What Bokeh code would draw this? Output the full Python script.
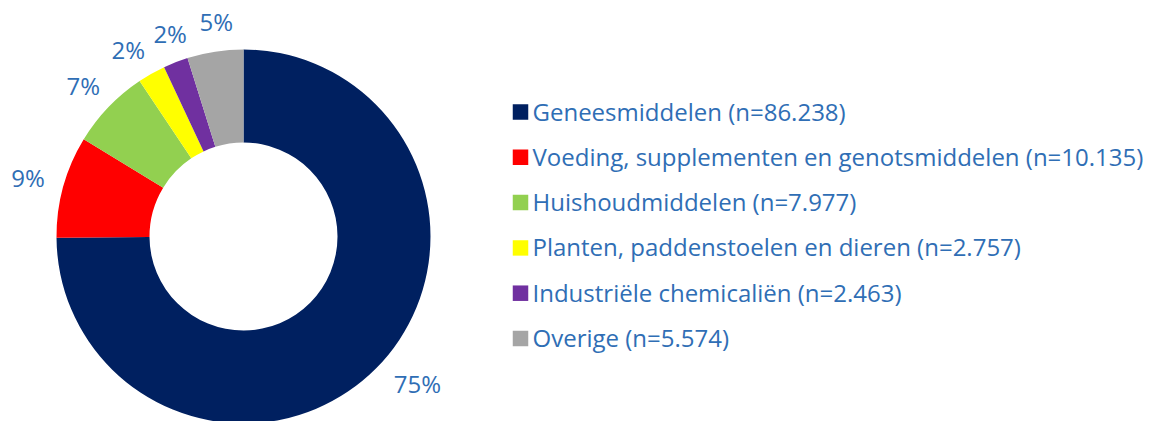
import math
from bokeh.plotting import figure
from bokeh.models import Range1d, ColumnDataSource
from bokeh.core.properties import value
from bokeh.embed import file_html
from bokeh.resources import INLINE

# ---- data ----
categories = ["Geneesmiddelen", "Voeding, supplementen en genotsmiddelen",
              "Huishoudmiddelen", "Planten, paddenstoelen en dieren",
              "Industriële chemicaliën", "Overige"]
counts = [86238, 10135, 7977, 2757, 2463, 5574]
count_labels = ["86.238", "10.135", "7.977", "2.757", "2.463", "5.574"]
colors = ["#002060", "#FF0000", "#92D050", "#FFFF00", "#7030A0", "#A5A5A5"]

TEXT_COLOR = "#2F6EB5"
FONT = "Open Sans"

W, H = 1155, 421
p = figure(width=W, height=H, output_backend="svg", toolbar_location=None,
           x_range=Range1d(0, W), y_range=Range1d(0, H),
           min_border=0)
p.axis.visible = False
p.grid.visible = False
p.outline_line_color = None

# page coords: data y = 421 - page y
cx, cy = 243, 421 - 236
R_out, R_in = 187, 94

total = sum(counts)
starts, ends, mids, pcts = [], [], [], []
cum = 0.0
for c in counts:
    f = c / total
    s = math.pi / 2 - 2 * math.pi * cum
    e = math.pi / 2 - 2 * math.pi * (cum + f)
    starts.append(s); ends.append(e); mids.append((s + e) / 2)
    pcts.append(f"{round(f * 100)}%")
    cum += f

src = ColumnDataSource(dict(start=starts, end=ends, color=colors))
p.annular_wedge(x=cx, y=cy, inner_radius=R_in, outer_radius=R_out,
                start_angle="start", end_angle="end", direction="clock",
                fill_color="color", line_color=None, source=src)

# percentage labels outside the ring (layout nudges: radius, angle offset in deg)
label_r = [227.5, 223.4, 220.3, 219.5, 215.7, 216.7]
label_da = [4.7, 0.2, 0.4, 2.2, -1.4, -1.5]
lx = [cx + r * math.cos(m + math.radians(d)) for r, m, d in zip(label_r, mids, label_da)]
ly = [cy + r * math.sin(m + math.radians(d)) for r, m, d in zip(label_r, mids, label_da)]
p.text(x=lx, y=ly, text=pcts, text_font=value(FONT), text_font_size="24px",
       text_color=TEXT_COLOR, text_align="center", text_baseline="middle")

# legend
step = 45.3
txt_y = [421 - (110.5 + i * step) for i in range(len(categories))]
sq_y = [421 - (111.5 + i * step) for i in range(len(categories))]
p.rect(x=[520] * len(categories), y=sq_y, width=15.5, height=15.5,
       fill_color=colors, line_color=None)
labels = [f"{c} (n={n})" for c, n in zip(categories, count_labels)]
p.text(x=[532] * len(categories), y=txt_y, text=labels, text_font=value(FONT),
       text_font_size="24px", text_color=TEXT_COLOR, text_align="left",
       text_baseline="middle")

open("out.html", "w").write(file_html(p, INLINE))
